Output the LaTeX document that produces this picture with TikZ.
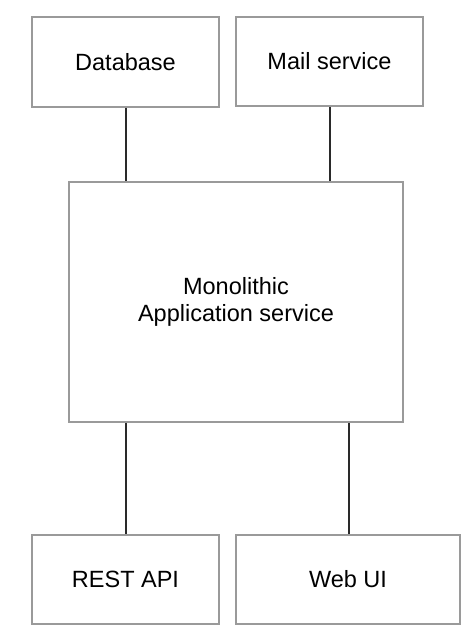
\documentclass[tikz,border=0pt]{standalone}
\usepackage{fontspec}
\setmainfont{Liberation Sans}
\definecolor{boxgray}{HTML}{9A9A9A}
\definecolor{linedark}{HTML}{2A2A2A}
\begin{document}
\begin{tikzpicture}[x=1pt,y=-1pt,
  box/.style={draw=boxgray,line width=1.5pt,rectangle,inner sep=0pt,align=center,
    font=\fontsize{23.5pt}{27pt}\selectfont,text=black},
  link/.style={draw=linedark,line width=2pt}]
\useasboundingbox (0,0) rectangle (473,642);
\node[box,minimum width=187pt,minimum height=90pt] (db) at (125.5,62) {Database};
\node[box,minimum width=187pt,minimum height=89pt] (mail) at (329.5,61.5) {Mail service};
\node[box,minimum width=334pt,minimum height=240pt] (app) at (236,302) {Monolithic\\Application service};
\node[box,minimum width=187pt,minimum height=89pt] (rest) at (125.5,579.5) {REST API};
\node[box,minimum width=224pt,minimum height=89pt] (web) at (348,579.5) {Web UI};
\draw[link] (db.south) -- (db.south |- app.north);
\draw[link] (mail.south) -- (mail.south |- app.north);
\draw[link] (rest.north |- app.south) -- (rest.north);
\draw[link] ([xshift=1pt]web.north |- app.south) -- ([xshift=1pt]web.north);
\end{tikzpicture}
\end{document}
